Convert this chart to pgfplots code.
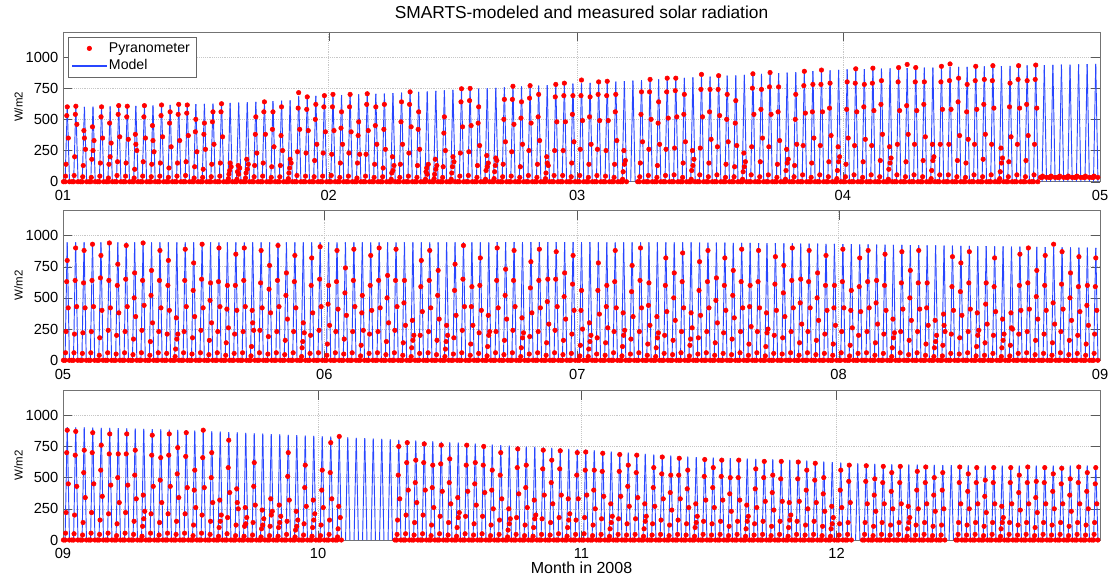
\documentclass[border=0pt]{standalone}
\usepackage{pgfplots}
\usepackage{pgfplotstable}
\pgfplotsset{compat=1.18}
\usepackage{fontspec}
\setmainfont{Liberation Sans}
\definecolor{mblue}{RGB}{40,70,255}

% columns: d = day of 2008 (0 = 1 Jan), p = model noon peak, z = night reading,
% a..f = pyranometer readings during the day (nan = no data)
\pgfplotstableread{
d p z a b c e f
0 598 0 45 140 350 530 600
1 599 0 50 200 460 540 605
2 600 0 40 130 260 410 350
3 601 0 35 180 330 440 250
4 602 0 45 150 350 520 600
5 603 0 30 140 310 470 200
6 604 0 50 160 360 540 610
7 606 0 45 150 340 520 605
8 607 0 30 100 250 380 300
9 609 0 45 160 350 520 610
10 611 0 40 140 240 450 330
11 613 0 45 150 360 530 615
12 615 0 35 110 280 470 560
13 617 0 45 150 330 540 620
14 619 0 50 160 370 550 615
15 621 0 30 120 240 400 500
16 624 0 35 100 260 380 470
17 626 0 40 140 300 480 560
18 629 0 45 150 360 560 625
19 631 0 25 60 120 90 150
20 634 0 20 80 110 130 60
21 637 0 30 70 140 180 100
22 640 0 40 130 230 380 520
23 643 0 45 150 380 560 640
24 646 0 35 120 280 420 560
25 649 0 40 130 250 370 600
26 652 0 25 70 150 110 180
27 684 0 50 240 420 590 714
28 686 0 45 230 410 580 680
29 688 0 40 170 300 500 620
30 691 0 45 230 400 600 690
31 693 0 50 220 410 600 700
32 695 0 35 150 300 430 560
33 698 0 45 230 400 600 700
34 700 0 30 150 220 370 480
35 702 0 45 220 410 620 705
36 705 0 35 140 300 450 600
37 707 0 40 110 260 420 620
38 711 0 20 70 130 200 90
39 714 0 35 140 300 480 640
40 718 0 45 230 440 620 720
41 721 0 35 130 260 420 560
42 725 0 20 80 140 110 60
43 728 0 25 60 130 180 100
44 732 0 35 120 250 390 520
45 736 0 20 70 160 120 200
46 739 0 45 230 440 640 745
47 743 0 50 240 450 650 748
48 746 0 35 130 290 470 600
49 750 0 20 90 150 210 120
50 753 0 25 80 170 130 190
51 757 0 40 140 320 500 660
52 761 0 45 240 460 660 765
53 764 0 35 120 300 510 640
54 768 0 50 250 470 670 770
55 771 0 35 140 330 520 700
56 775 0 25 70 130 200 150
57 778 0 50 250 480 680 780
58 782 0 50 250 480 690 790
59 786 0 40 150 320 540 690
60 789 0 50 260 490 690 815
61 793 0 35 140 300 520 680
62 796 0 50 260 490 700 800
63 800 0 45 250 490 690 805
64 803 0 35 140 330 560 700
65 807 0 20 80 170 250 140
66 811 nan nan nan nan nan nan
67 814 0 40 150 320 540 720
68 818 0 50 260 500 720 820
69 821 0 35 130 300 470 640
70 825 0 50 260 510 720 830
71 828 0 55 270 520 730 830
72 832 0 35 150 320 540 700
73 836 0 20 90 180 250 130
74 839 0 55 270 520 740 860
75 843 0 40 150 340 560 740
76 846 0 55 280 530 740 850
77 850 0 35 140 320 500 700
78 853 0 40 120 290 470 650
79 857 0 20 80 160 230 120
80 861 0 55 280 540 750 865
81 864 0 40 160 350 580 740
82 868 0 55 280 540 760 875
83 871 0 35 140 330 560 760
84 875 0 20 90 180 260 150
85 878 0 40 130 300 500 700
86 882 0 55 290 550 770 885
87 886 0 35 150 350 560 780
88 889 0 55 290 560 780 895
89 893 0 40 160 370 590 790
90 896 0 25 90 200 280 160
91 900 0 40 140 350 580 800
92 902 0 55 290 560 790 905
93 903 0 35 160 340 600 780
94 905 0 55 290 570 790 910
95 906 0 40 170 380 620 810
96 908 0 20 100 190 280 150
97 909 0 55 300 570 800 915
98 911 0 40 160 380 610 940
99 912 0 55 300 570 800 915
100 914 0 40 170 360 620 800
101 915 0 25 90 200 300 170
102 917 0 55 300 580 800 925
103 918 0 55 300 580 810 944
104 920 0 40 170 370 640 830
105 921 0 35 150 340 560 780
106 923 0 55 300 580 810 925
107 924 0 40 180 380 620 820
108 926 0 55 300 590 810 930
109 927 0 25 80 190 270 150
110 929 0 40 160 360 600 790
111 930 0 55 300 590 820 930
112 932 0 40 170 370 620 810
113 933 0 55 300 590 820 935
114 935 35 45 nan nan nan nan
115 936 35 45 nan nan nan nan
116 938 35 45 nan nan nan nan
117 939 35 45 nan nan nan nan
118 941 35 45 nan nan nan nan
119 942 35 45 nan nan nan nan
120 944 35 45 nan nan nan nan
}\tA

\pgfplotstableread{
d p z a b c e f
121 944 0 60 230 420 630 800
122 944 0 60 210 430 640 900
123 944 0 55 220 420 620 880
124 944 0 60 230 430 640 930
125 944 0 40 180 400 660 840
126 944 0 60 240 420 640 940
127 944 0 50 200 380 600 770
128 944 0 60 230 430 650 920
129 944 0 45 170 350 500 700
130 944 0 60 240 440 640 940
131 945 0 40 150 300 520 720
132 945 0 60 230 420 640 880
133 945 0 55 210 400 600 800
134 945 0 30 90 210 340 170
135 945 0 60 230 430 640 890
136 945 0 50 180 350 560 780
137 945 0 60 240 420 650 930
138 945 0 45 160 300 480 620
139 945 0 60 230 430 630 900
140 945 0 40 140 260 410 600
141 945 0 55 210 400 600 850
142 945 0 60 230 430 640 900
143 945 0 35 110 240 400 300
144 945 0 60 240 420 620 880
145 945 0 50 190 380 570 760
146 945 0 60 230 430 640 920
147 945 0 45 160 330 520 700
148 945 0 60 230 420 630 840
149 945 0 30 100 220 150 300
150 945 0 55 200 380 600 820
151 945 0 60 240 430 650 910
152 945 0 40 130 280 450 600
153 945 0 60 230 410 630 880
154 945 0 50 170 360 540 740
155 945 0 60 230 430 640 890
156 945 0 35 120 240 380 520
157 945 0 55 210 400 600 840
158 945 0 60 230 420 640 900
159 945 0 45 150 300 500 680
160 945 0 60 240 430 640 890
161 945 0 40 140 280 460 640
162 945 0 30 100 200 320 160
163 945 0 55 200 390 590 800
164 945 0 60 230 420 640 880
165 945 0 45 160 330 520 720
166 945 0 30 90 200 150 280
167 945 0 50 180 360 560 770
168 945 0 60 240 430 650 920
169 945 0 40 130 280 430 590
170 945 0 55 220 400 600 820
171 945 0 35 110 230 360 200
172 946 0 60 230 420 640 900
173 946 0 45 160 330 520 730
174 946 0 60 240 430 640 880
175 946 0 30 100 220 340 180
176 946 0 50 190 380 580 790
177 946 0 60 230 420 640 890
178 946 0 40 140 290 470 650
179 946 0 60 240 430 650 870
180 946 0 45 160 330 510 700
181 946 0 55 210 400 610 840
182 946 0 35 120 250 400 560
183 946 0 30 90 200 300 150
184 945 0 50 180 370 560 780
185 945 0 40 140 260 430 600
186 945 0 60 230 420 630 880
187 945 0 35 110 240 380 200
188 945 0 50 170 350 550 760
189 945 0 60 230 420 640 900
190 945 0 40 130 280 440 620
191 944 0 30 100 220 350 180
192 944 0 55 200 390 600 820
193 944 0 45 160 320 500 700
194 944 0 60 230 420 630 860
195 944 0 35 120 260 170 380
196 943 0 50 180 360 560 790
197 943 0 60 230 420 630 880
198 943 0 40 140 300 480 660
199 942 0 55 220 400 600 820
200 941 0 45 170 340 520 720
201 940 0 60 230 420 630 890
202 940 0 40 130 270 430 600
203 939 0 60 230 420 630 880
204 938 0 35 110 250 380 220
205 938 0 55 200 400 610 830
206 937 0 50 180 350 540 760
207 936 0 60 230 420 640 900
208 935 0 40 140 290 460 650
209 935 0 60 230 420 630 880
210 934 0 45 160 320 500 700
211 933 0 55 210 400 600 840
212 932 0 40 130 280 420 600
213 931 0 60 230 420 630 890
214 930 0 35 120 260 400 560
215 929 0 55 200 390 590 820
216 928 0 60 230 420 630 880
217 927 0 40 140 290 460 640
218 926 0 55 210 400 600 850
219 925 0 30 100 220 330 180
220 924 0 60 230 410 620 870
221 923 0 45 160 320 500 720
222 922 0 60 230 410 620 880
223 921 0 40 130 280 420 620
224 920 0 30 100 200 320 150
225 919 0 35 120 230 370 280
226 918 0 55 210 400 590 830
227 917 0 50 180 360 550 780
228 916 0 60 230 410 620 870
229 915 0 35 110 240 380 200
230 914 0 40 140 290 450 620
231 913 0 55 200 390 590 820
232 912 0 30 100 210 330 160
233 911 0 35 120 250 380 260
234 910 0 55 210 400 600 850
235 909 0 60 230 410 620 900
236 908 0 45 160 330 510 720
237 907 0 55 210 400 600 840
238 906 0 40 140 290 460 930
239 905 0 60 230 410 610 870
240 904 0 45 160 320 500 700
241 903 0 55 200 390 590 830
242 902 0 40 130 280 440 600
243 901 0 55 210 400 590 820
}\tB

\pgfplotstableread{
d p z a b c e f
244 905 0 55 220 450 700 880
245 903 0 50 200 430 680 870
246 902 0 40 140 340 540 720
247 900 0 55 220 450 700 860
248 899 0 45 160 350 560 760
249 898 0 55 210 440 690 850
250 896 0 35 130 300 500 690
251 894 0 55 220 440 690 850
252 892 0 45 150 330 520 720
253 890 0 30 110 230 360 170
254 888 0 55 210 430 680 840
255 886 0 40 140 300 480 660
256 884 0 55 210 430 680 850
257 882 0 45 150 340 530 740
258 880 0 55 210 420 670 860
259 877 0 35 120 260 400 560
260 874 0 55 200 420 660 880
261 871 0 45 150 300 500 700
262 868 0 30 100 200 320 150
263 865 0 50 180 380 580 800
264 862 0 35 120 250 410 300
265 859 0 30 110 180 260 130
266 855 0 40 140 280 430 620
267 852 0 25 90 170 240 120
268 849 0 35 110 230 330 200
269 846 0 30 100 190 280 140
270 843 0 45 150 320 510 700
271 840 0 25 80 160 230 110
272 837 0 40 130 270 420 600
273 834 0 30 100 210 320 160
274 831 0 35 120 260 400 560
275 828 0 45 160 330 540 780
276 825 0 25 90 180 270 830
277 822 nan nan nan nan nan nan
278 819 nan nan nan nan nan nan
279 816 nan nan nan nan nan nan
280 813 nan nan nan nan nan nan
281 810 nan nan nan nan nan nan
282 806 nan nan nan nan nan nan
283 803 0 45 160 330 520 750
284 800 0 50 200 400 620 780
285 797 0 40 140 300 460 640
286 793 0 50 200 400 620 770
287 790 0 35 120 260 420 600
288 786 0 50 190 390 610 760
289 783 0 40 140 290 460 650
290 780 0 30 100 220 340 180
291 776 0 50 190 390 600 760
292 772 0 40 130 280 450 620
293 768 0 50 190 380 600 750
294 764 0 35 120 250 400 560
295 760 0 45 160 330 520 700
296 757 0 25 80 170 250 130
297 753 0 45 180 370 580 730
298 749 0 35 120 260 420 600
299 746 0 30 100 200 320 170
300 742 0 45 170 360 570 720
301 738 0 40 140 290 460 640
302 734 0 50 180 360 570 715
303 730 0 30 100 210 330 160
304 727 0 45 160 330 520 700
305 724 0 50 180 360 560 705
306 719 0 35 120 250 400 560
307 714 0 45 170 350 550 695
308 709 0 30 90 190 290 140
309 704 0 45 170 350 550 685
310 700 0 40 130 270 430 600
311 695 0 45 170 340 540 680
312 690 0 30 90 190 290 150
313 685 0 40 130 270 420 580
314 680 0 45 160 330 530 665
315 676 0 35 120 240 380 520
316 672 0 45 160 330 520 655
317 668 0 40 130 260 410 560
318 665 0 30 100 190 290 140
319 662 0 45 150 320 510 645
320 660 0 40 130 260 420 580
321 658 0 45 150 320 510 640
322 656 0 35 110 230 370 500
323 654 0 45 150 320 500 640
324 652 0 30 90 190 280 150
325 650 0 40 130 260 410 570
326 648 0 45 150 310 500 630
327 646 0 35 110 240 380 520
328 644 0 45 150 310 490 630
329 642 0 30 100 200 300 160
330 640 0 45 150 310 490 625
331 636 0 40 120 250 400 560
332 632 0 45 150 300 480 615
333 628 0 35 110 230 370 500
334 624 0 30 90 180 270 130
335 620 0 40 130 260 400 560
336 617 0 45 140 300 470 600
337 614 nan nan nan nan nan nan
338 612 0 45 140 290 470 595
339 610 0 35 110 230 360 490
340 608 0 45 140 290 460 590
341 607 0 40 120 250 390 540
342 606 0 45 140 290 460 590
343 605 0 30 90 180 270 140
344 604 0 40 120 250 400 550
345 603 0 45 140 290 460 585
346 602 0 35 110 230 360 500
347 601 0 40 120 250 400 540
348 600 nan nan nan nan nan nan
349 599 0 45 140 290 460 585
350 598 0 40 120 250 390 530
351 597 0 45 140 290 460 580
352 597 0 35 110 220 350 480
353 596 0 45 140 290 460 580
354 596 0 30 90 180 270 140
355 596 0 45 140 290 460 580
356 596 0 40 120 240 380 520
357 596 0 45 140 290 460 585
358 596 0 35 100 220 340 470
359 596 0 45 140 290 460 580
360 596 0 40 120 250 390 530
361 596 0 45 140 290 450 575
362 597 0 35 110 230 360 490
363 597 0 45 140 290 460 585
364 597 0 40 120 250 390 540
365 597 0 45 140 290 450 580
}\tC

\pgfplotsset{
  panel/.style={
    scale only axis, width=777.75pt, height=112.3pt,
    ymin=0, ymax=1200, ytick={0,250,500,750,1000},
    tick align=inside, major tick length=7pt,
    xtick pos=both, ytick pos=both,
    xticklabel pos=lower, yticklabel pos=left,
    grid=major, major grid style={densely dotted, black!22},
    axis line style={black!55}, tick style={black!65},
    tick label style={font=\fontsize{11}{13}\selectfont},
    xticklabel style={yshift=-3pt},
    /pgf/number format/assume math mode=true,
    /pgf/number format/1000 sep={},
    every axis y label/.style={at={(axis description cs:-0.043,0.5)}, rotate=90, anchor=center, font=\fontsize{8.6}{10}\selectfont},
    ylabel={W/m2},
  },
  dot/.style={only marks, mark=*, mark size=1.7pt, color=red, mark options={draw=red, fill=red}, forget plot},
  model/.style={color=mblue, draw=mblue, line width=0.7pt, forget plot},
  modellegend/.style={legend image code/.code={\fill[fill=mblue] (0pt,-0.35pt) rectangle (25pt,0.35pt);}},
  dotlegend/.style={legend image code/.code={\fill[fill=red] (12.5pt,0pt) circle (1.7pt);}},
}

\newcommand\drawpanel[1]{%
  \addplot[dot] table[x expr=\thisrow{d}+0.05, y=z] {#1};
  \addplot[dot] table[x expr=\thisrow{d}+0.25, y=z] {#1};
  \addplot[dot] table[x expr=\thisrow{d}+0.75, y=z] {#1};
  \addplot[dot] table[x expr=\thisrow{d}+0.30, y=a] {#1};
  \addplot[dot] table[x expr=\thisrow{d}+0.36, y=b] {#1};
  \addplot[dot] table[x expr=\thisrow{d}+0.62, y=c] {#1};
  \addplot[dot] table[x expr=\thisrow{d}+0.44, y=e] {#1};
  \addplot[dot] table[x expr=\thisrow{d}+0.50, y=f] {#1};
  \addplot[model, quiver={u=0.26, v=\thisrow{p}, every arrow/.append style={draw=mblue, line width=0.7pt}}] table[x expr=\thisrow{d}+0.24, y expr=0] {#1};
  \addplot[model, quiver={u=0.26, v=-\thisrow{p}, every arrow/.append style={draw=mblue, line width=0.7pt}}] table[x expr=\thisrow{d}+0.5, y=p] {#1};
}

\begin{document}
\begin{tikzpicture}
\useasboundingbox (0,0) rectangle (834pt,436.5pt);

\begin{axis}[panel, at={(47.25pt,300.2pt)}, anchor=south west,
  xmin=0, xmax=121, xtick={0,31,60,91,121}, xticklabels={01,02,03,04,05},
  title={SMARTS-modeled and measured solar radiation},
  title style={at={(axis description cs:0.5,1.075)}, anchor=center, font=\fontsize{13}{15}\selectfont},
  legend style={at={(axis description cs:0.005,0.967)}, anchor=north west,
    draw=black!60, line width=0.4pt, fill=white, font=\fontsize{10.6}{12}\selectfont,
    inner xsep=3pt, inner ysep=2pt, row sep=0pt, cells={anchor=west}},
]
\drawpanel{\tA}
\addlegendimage{red, dotlegend}
\addlegendentry{Pyranometer}
\addlegendimage{mblue, modellegend}
\addlegendentry{Model}
\end{axis}

\begin{axis}[panel, at={(47.25pt,166.3pt)}, anchor=south west,
  xmin=121, xmax=244, xtick={121,152,182,213,244}, xticklabels={05,06,07,08,09}]
\drawpanel{\tB}
\end{axis}

\begin{axis}[panel, at={(47.25pt,31.5pt)}, anchor=south west,
  xmin=244, xmax=366, xtick={244,274,305,335}, xticklabels={09,10,11,12},
  xlabel={Month in 2008},
  xlabel style={at={(axis description cs:0.5,-0.187)}, anchor=center, font=\fontsize{12}{14}\selectfont}]
\drawpanel{\tC}
\end{axis}
\end{tikzpicture}
\end{document}
